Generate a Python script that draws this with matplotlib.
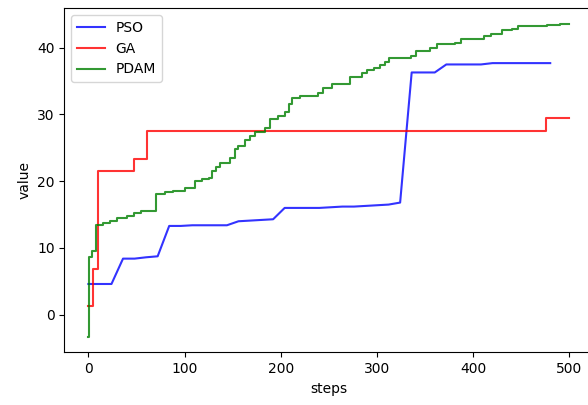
import matplotlib
matplotlib.use("Agg")
import matplotlib.pyplot as plt

# PSO is sampled every 12 steps
pso_steps = list(range(0, 481, 12))
pso_values = [4.6, 4.6, 4.6, 8.4, 8.4, 8.6, 8.75, 13.3, 13.3, 13.4,
              13.4, 13.4, 13.4, 14.0, 14.1, 14.2, 14.3, 16.0, 16.0, 16.0,
              16.0, 16.1, 16.2, 16.2, 16.3, 16.4, 16.5, 16.8, 36.3, 36.3,
              36.3, 37.5, 37.5, 37.5, 37.5, 37.7, 37.7, 37.7, 37.7, 37.7,
              37.7]

# GA and PDAM change in steps: (step where value changes, new value)
ga_steps = [0, 5, 10, 47, 61, 476, 500]
ga_values = [1.3, 6.9, 21.6, 23.4, 27.6, 29.5, 29.5]

pdam_steps = [0, 1, 4, 8, 15, 22, 30, 40, 47, 55, 70, 80, 88, 100, 111,
              118, 125, 128, 133, 137, 147, 152, 156, 163, 168, 173, 184,
              189, 197, 204, 208, 212, 220, 239, 244, 253, 267, 272, 284,
              290, 297, 303, 308, 312, 335, 340, 355, 362, 381, 387, 411,
              418, 430, 440, 447, 477, 490, 500]
pdam_values = [-3.3, 8.6, 9.5, 13.5, 13.8, 14.1, 14.5, 14.8, 15.3, 15.5,
               18.1, 18.4, 18.6, 19.0, 20.0, 20.3, 20.5, 21.5, 22.2, 22.7,
               23.5, 24.8, 25.3, 26.2, 26.8, 27.4, 28.0, 29.4, 29.8, 30.3,
               31.5, 32.5, 32.7, 33.2, 34.0, 34.5, 34.6, 35.6, 36.2, 36.7,
               37.0, 37.4, 37.8, 38.4, 38.7, 39.5, 39.9, 40.5, 40.7, 41.3,
               41.7, 42.1, 42.6, 42.8, 43.2, 43.4, 43.5, 43.6]

fig = plt.figure(figsize=(5.88, 4.05), dpi=100)
ax = fig.add_axes([0.1094, 0.130, 0.900, 0.850])

ax.plot(pso_steps, pso_values, color="b", alpha=0.8, label="PSO")
ax.plot(ga_steps, ga_values, color="r", alpha=0.8, drawstyle="steps-post", label="GA")
ax.plot(pdam_steps, pdam_values, color="g", alpha=0.8, drawstyle="steps-post", label="PDAM")

ax.set_xlabel("steps")
ax.set_ylabel("value")
ax.legend(loc="upper left")

fig.savefig("out.png", dpi=100)
